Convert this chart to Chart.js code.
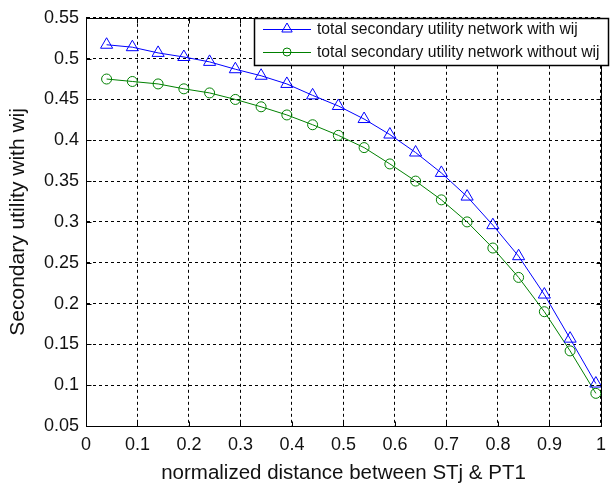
<!DOCTYPE html>
<html>
<head>
<meta charset="utf-8">
<script src="https://cdn.jsdelivr.net/npm/chart.js@4.4.0/dist/chart.umd.min.js"></script>
<style>
  html, body { margin: 0; padding: 0; background: #fff; }
  #wrap { width: 614px; height: 486px; }
</style>
</head>
<body>
<div id="wrap"><canvas id="lineChart" width="614" height="486"></canvas></div>
<script>
// normalized distance between STj and PT1
const distance = [0.04, 0.09, 0.14, 0.19, 0.24, 0.29, 0.34, 0.39, 0.44, 0.49,
                  0.54, 0.59, 0.64, 0.69, 0.74, 0.79, 0.84, 0.89, 0.94, 0.99];
// total secondary utility, with and without wij
const utilityWith = [0.517, 0.514, 0.507, 0.502, 0.496, 0.487, 0.479, 0.469, 0.455, 0.442,
                     0.426, 0.407, 0.385, 0.360, 0.331, 0.296, 0.258, 0.211, 0.157, 0.102];
const utilityWithout = [0.475, 0.472, 0.469, 0.463, 0.458, 0.450, 0.441, 0.431, 0.419, 0.406,
                        0.391, 0.371, 0.350, 0.327, 0.300, 0.268, 0.232, 0.190, 0.142, 0.090];

const xTicks = [0, 0.1, 0.2, 0.3, 0.4, 0.5, 0.6, 0.7, 0.8, 0.9, 1];
const xTickLabels = ['0', '0.1', '0.2', '0.3', '0.4', '0.5', '0.6', '0.7', '0.8', '0.9', '1'];
const yTicks = [0.05, 0.1, 0.15, 0.2, 0.25, 0.3, 0.35, 0.4, 0.45, 0.5, 0.55];
const yTickLabels = ['0.05', '0.1', '0.15', '0.2', '0.25', '0.3', '0.35', '0.4', '0.45', '0.5', '0.55'];

const FONT = '"Liberation Sans", Arial, sans-serif';

const toPoints = (xs, ys) => xs.map((x, i) => ({ x: x, y: ys[i] }));

// solid box round the plot area, with short inward tick marks
const frame = {
  id: 'frame',
  afterDraw(chart) {
    const { ctx, chartArea: a, scales } = chart;
    const L = Math.round(a.left) + 0.5, R = Math.round(a.right) + 0.5;
    const T = Math.round(a.top) + 0.5, B = Math.round(a.bottom) + 0.5;
    ctx.save();
    ctx.strokeStyle = '#000';
    ctx.lineWidth = 1;
    ctx.strokeRect(L, T, R - L, B - T);
    ctx.beginPath();
    xTicks.forEach(v => {
      const x = Math.round(scales.x.getPixelForValue(v)) + 0.5;
      ctx.moveTo(x, B); ctx.lineTo(x, B - 5);
      ctx.moveTo(x, T); ctx.lineTo(x, T + 5);
    });
    yTicks.forEach(v => {
      const y = Math.round(scales.y.getPixelForValue(v)) + 0.5;
      ctx.moveTo(L, y); ctx.lineTo(L + 5, y);
      ctx.moveTo(R, y); ctx.lineTo(R - 5, y);
    });
    ctx.stroke();
    ctx.restore();
  }
};

// legend box in the upper right corner of the plot
const boxLegend = {
  id: 'boxLegend',
  afterDraw(chart) {
    const { ctx, chartArea: a } = chart;
    const left = 254, top = Math.round(a.top), right = 609, bottom = 65;
    ctx.save();
    ctx.fillStyle = '#fff';
    ctx.fillRect(left, top, right - left, bottom - top);
    ctx.strokeStyle = '#000';
    ctx.lineWidth = 1.5;
    ctx.strokeRect(left + 0.5, top + 0.5, right - left - 1, bottom - top);
    ctx.font = '15.7px ' + FONT;
    ctx.textBaseline = 'middle';
    chart.data.datasets.forEach((ds, i) => {
      const y = 29 + i * 23;
      ctx.strokeStyle = ds.borderColor;
      ctx.fillStyle = 'rgba(0,0,0,0)';
      ctx.lineWidth = 1;
      ctx.beginPath();
      ctx.moveTo(263, y + 0.5);
      ctx.lineTo(311, y + 0.5);
      ctx.stroke();
      Chart.helpers.drawPoint(ctx, {
        pointStyle: ds.pointStyle, radius: ds.pointRadius - 1, borderWidth: 1, rotation: 0
      }, 287, y);
      ctx.fillStyle = '#111';
      ctx.fillText(ds.label, 317, y + 1);
    });
    ctx.restore();
  }
};

const setTicks = values => scale => { scale.ticks = values.map(v => ({ value: v })); };

new Chart(document.getElementById('lineChart'), {
  type: 'scatter',
  data: {
    datasets: [{
      label: 'total secondary utility network with wij',
      data: toPoints(distance, utilityWith),
      borderColor: '#0000ff',
      backgroundColor: 'rgba(0,0,0,0)',
      pointStyle: 'triangle',
      pointRadius: 7,
      pointBorderWidth: 1,
      borderWidth: 1,
      showLine: true
    }, {
      label: 'total secondary utility network without wij',
      data: toPoints(distance, utilityWithout),
      borderColor: '#008000',
      backgroundColor: 'rgba(0,0,0,0)',
      pointStyle: 'circle',
      pointRadius: 5,
      pointBorderWidth: 1,
      borderWidth: 1,
      showLine: true
    }]
  },
  options: {
    responsive: false,
    animation: false,
    layout: { padding: { top: 15, right: 6, left: 0, bottom: 0 } },
    plugins: { legend: { display: false }, tooltip: { enabled: false } },
    scales: {
      x: {
        type: 'linear', min: 0, max: 1,
        afterBuildTicks: setTicks(xTicks),
        afterFit(scale) { scale.height = 60; },
        ticks: {
          callback: (v, i) => xTickLabels[i],
          color: '#111', font: { family: FONT, size: 18 }, padding: 8, maxRotation: 0
        },
        grid: { color: '#000', lineWidth: 1, drawTicks: false },
        border: { display: true, color: '#000', dash: [3, 3] },
        title: {
          display: true, text: 'normalized distance between STj & PT1',
          color: '#111', font: { family: FONT, size: 20.5 }, padding: { top: 4, bottom: 0 }
        }
      },
      y: {
        type: 'linear', min: 0.05, max: 0.55,
        afterBuildTicks: setTicks(yTicks),
        afterFit(scale) { scale.width = 86; },
        ticks: {
          callback: (v, i) => yTickLabels[i],
          color: '#111', font: { family: FONT, size: 18 }, padding: 7
        },
        grid: { color: '#000', lineWidth: 1, drawTicks: false },
        border: { display: true, color: '#000', dash: [3, 3] },
        title: {
          display: true, text: 'Secondary utility with wij',
          color: '#111', font: { family: FONT, size: 21 }, padding: { top: 6, bottom: 0 }
        }
      }
    }
  },
  plugins: [frame, boxLegend]
});
</script>
</body>
</html>
